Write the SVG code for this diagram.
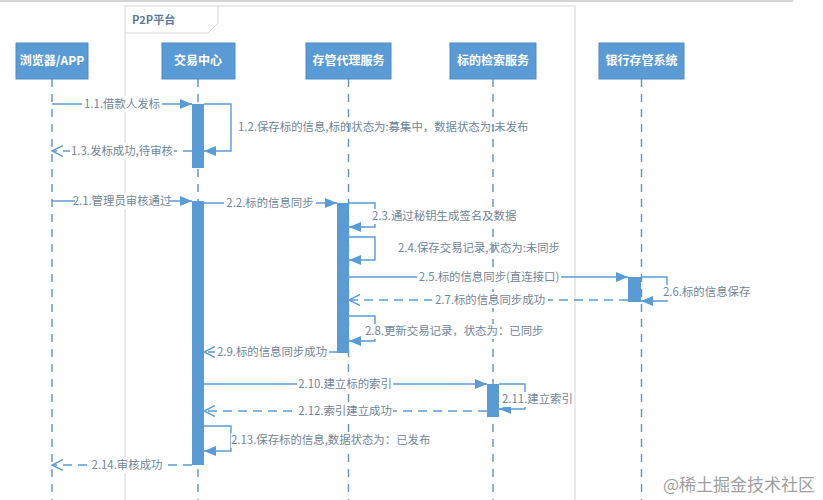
<svg xmlns="http://www.w3.org/2000/svg" width="823" height="500" viewBox="0 0 823 500">
<style>
.box{fill:#5b9bd5;stroke:#4f8cc6;stroke-width:1}
.ptxt{font-family:"Noto Sans CJK SC","Liberation Sans",sans-serif;font-size:12px;font-weight:bold;fill:#ffffff;text-anchor:middle}
.life{stroke:#5f93c4;stroke-width:1.4;stroke-dasharray:8,7;fill:none}
.act{fill:#5b9bd5}
.msg{stroke:#5b9bd5;stroke-width:1.4;fill:none}
.ret{stroke:#5b9bd5;stroke-width:1.4;fill:none;stroke-dasharray:9,6}
.lbl{font-family:"Noto Sans CJK SC","Liberation Sans",sans-serif;font-size:11.4px;fill:#6f8599}
.mid{text-anchor:middle}
.bg{fill:#ffffff}
</style>
<defs>
<marker id="sync" viewBox="0 0 12 10" refX="12" refY="5" markerWidth="12" markerHeight="10" markerUnits="userSpaceOnUse" orient="auto"><path d="M0,0 L12,5 L0,10 z" fill="#5b9bd5"/></marker>
<marker id="open" viewBox="0 0 12 12" refX="11" refY="6" markerWidth="12" markerHeight="12" markerUnits="userSpaceOnUse" orient="auto"><path d="M0,0.5 L11,6 L0,11.5" fill="none" stroke="#5b9bd5" stroke-width="1.4"/></marker>
</defs>
<rect width="823" height="500" fill="#ffffff"/>
<line x1="0" y1="1" x2="793" y2="1" stroke="#a8a8a8" stroke-width="1"/>
<g id="frame-p2p">
<rect x="125" y="6" width="450" height="500" fill="none" stroke="#d6d6d6" stroke-width="1"/>
<path d="M125,33 L208,33 L218,23 L218,6" fill="none" stroke="#d6d6d6" stroke-width="1"/>
<text x="132" y="24" font-family="'Noto Sans CJK SC','Liberation Sans',sans-serif" font-size="11" font-weight="bold" fill="#5a7a9c">P2P平台</text>
</g>
<g id="lifelines">
<line class="life" x1="52" y1="79" x2="52" y2="500"/>
<line class="life" x1="198" y1="79" x2="198" y2="500"/>
<line class="life" x1="348.5" y1="79" x2="348.5" y2="500"/>
<line class="life" x1="493" y1="79" x2="493" y2="500"/>
<line class="life" x1="641.5" y1="79" x2="641.5" y2="500"/>
</g>
<g id="p-browser"><rect class="box" x="16" y="43" width="72" height="36"/><text class="ptxt" x="52" y="65">浏览器/APP</text></g>
<g id="p-trade"><rect class="box" x="162" y="43" width="73" height="36"/><text class="ptxt" x="198" y="65">交易中心</text></g>
<g id="p-custody"><rect class="box" x="306" y="43" width="85" height="36"/><text class="ptxt" x="348.5" y="65">存管代理服务</text></g>
<g id="p-search"><rect class="box" x="450" y="43" width="86" height="36"/><text class="ptxt" x="493" y="65">标的检索服务</text></g>
<g id="p-bank"><rect class="box" x="599" y="43" width="85" height="36"/><text class="ptxt" x="641.5" y="65">银行存管系统</text></g>
<g id="activations">
<rect class="act" x="192" y="104" width="12" height="64"/>
<rect class="act" x="192" y="201" width="12" height="264"/>
<rect class="act" x="337" y="203" width="12" height="150"/>
<rect class="act" x="628" y="277" width="13" height="25"/>
<rect class="act" x="487" y="384" width="12" height="33"/>
</g>
<g id="connectors">
<line class="msg" x1="52" y1="104" x2="192" y2="104" marker-end="url(#sync)"/>
<rect class="bg" x="82" y="96" width="80" height="16"/>
<text class="lbl mid" x="122" y="108.3">1.1.借款人发标</text>

<path class="msg" d="M204,104 H231 V151 H204" marker-end="url(#sync)"/>
<text class="lbl" x="238" y="131.3">1.2.保存标的信息,标的状态为:募集中，数据状态为:未发布</text>

<line class="ret" x1="192" y1="151" x2="52" y2="151" marker-end="url(#open)"/>
<rect class="bg" x="70" y="143" width="104" height="16"/>
<text class="lbl mid" x="122" y="155.3">1.3.发标成功,待审核</text>

<line class="msg" x1="52" y1="201" x2="192" y2="201" marker-end="url(#sync)"/>
<rect class="bg" x="75" y="193" width="94" height="16"/>
<text class="lbl mid" x="122" y="205.3">2.1.管理员审核通过</text>

<line class="msg" x1="204" y1="203" x2="337" y2="203" marker-end="url(#sync)"/>
<rect class="bg" x="224" y="195" width="92" height="16"/>
<text class="lbl mid" x="270" y="207.3">2.2.标的信息同步</text>

<path class="msg" d="M349,203 H375 V227 H349" marker-end="url(#sync)"/>
<rect class="bg" x="372" y="209" width="146" height="15"/>
<text class="lbl" x="372" y="220.3">2.3.通过秘钥生成签名及数据</text>

<path class="msg" d="M349,237 H375 V260 H349" marker-end="url(#sync)"/>
<text class="lbl" x="398" y="252.3">2.4.保存交易记录,状态为:未同步</text>

<line class="msg" x1="349" y1="277" x2="628" y2="277" marker-end="url(#sync)"/>
<rect class="bg" x="417" y="269" width="144" height="16"/>
<text class="lbl mid" x="489" y="281.3">2.5.标的信息同步(直连接口)</text>

<path class="msg" d="M641,277 H667 V301 H641" marker-end="url(#sync)"/>
<rect class="bg" x="663" y="285" width="92" height="15"/>
<text class="lbl" x="663" y="296.3">2.6.标的信息保存</text>

<line class="ret" x1="628" y1="300" x2="349" y2="300" marker-end="url(#open)"/>
<rect class="bg" x="432" y="292" width="116" height="16"/>
<text class="lbl mid" x="490" y="304.3">2.7.标的信息同步成功</text>

<path class="msg" d="M349,316 H375 V341 H349" marker-end="url(#sync)"/>
<rect class="bg" x="365" y="324" width="164" height="15"/>
<text class="lbl" x="365" y="335.3">2.8.更新交易记录，状态为：已同步</text>

<line class="ret" x1="337" y1="352" x2="204" y2="352" marker-end="url(#open)"/>
<rect class="bg" x="215" y="344" width="114" height="16"/>
<text class="lbl mid" x="272" y="356.3">2.9.标的信息同步成功</text>

<line class="msg" x1="204" y1="384" x2="487" y2="384" marker-end="url(#sync)"/>
<rect class="bg" x="297" y="376" width="96" height="16"/>
<text class="lbl mid" x="345" y="388.3">2.10.建立标的索引</text>

<path class="msg" d="M499,384 H525 V409 H499" marker-end="url(#sync)"/>
<rect class="bg" x="502" y="392" width="72" height="15"/>
<text class="lbl" x="502" y="403.3">2.11.建立索引</text>

<line class="ret" x1="487" y1="411" x2="204" y2="411" marker-end="url(#open)"/>
<rect class="bg" x="297" y="403" width="96" height="16"/>
<text class="lbl mid" x="345" y="415.3">2.12.索引建立成功</text>

<path class="msg" d="M204,426 H231 V451 H204" marker-end="url(#sync)"/>
<rect class="bg" x="231" y="433" width="186" height="15"/>
<text class="lbl" x="231" y="444.3">2.13.保存标的信息,数据状态为：已发布</text>

<line class="ret" x1="192" y1="465" x2="52" y2="465" marker-end="url(#open)"/>
<rect class="bg" x="90" y="457" width="74" height="16"/>
<text class="lbl mid" x="127" y="469.3">2.14.审核成功</text>
</g>
<text x="663" y="491" font-family="'Noto Sans CJK SC',sans-serif" font-size="17" fill="#a0a0a0">@稀土掘金技术社区</text>
</svg>
